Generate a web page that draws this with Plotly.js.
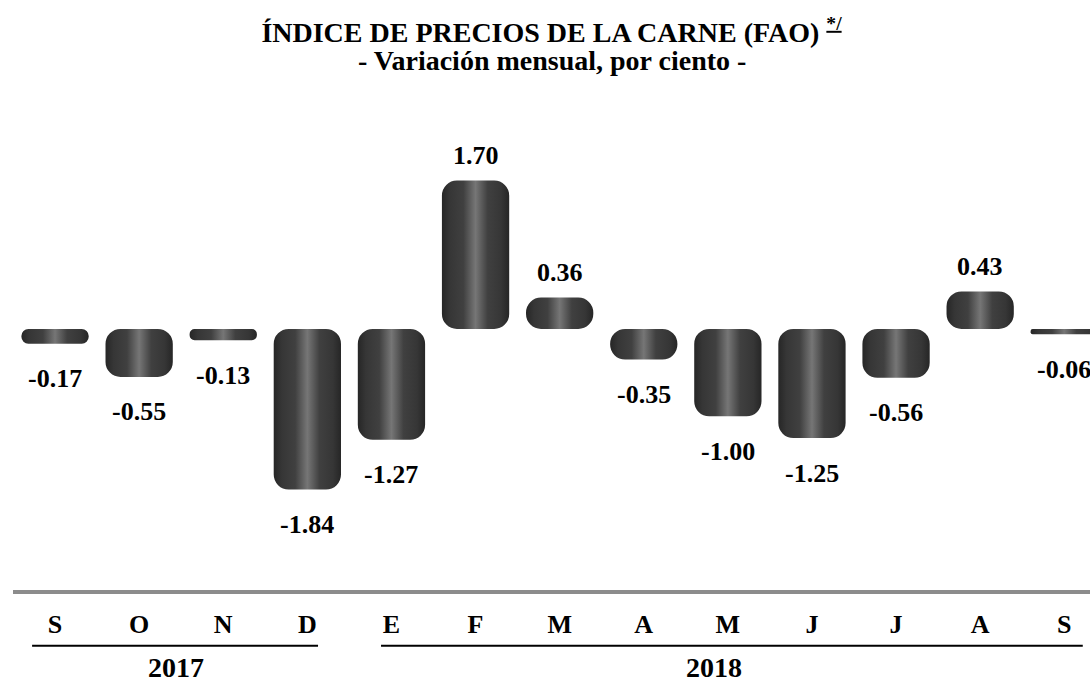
<!DOCTYPE html>
<html>
<head>
<meta charset="utf-8">
<script src="https://cdn.plot.ly/plotly-3.0.1.min.js"></script>
<style>
html,body{margin:0;padding:0;background:#fff;}
#chart{width:1090px;height:684px;}
</style>
</head>
<body>
<div id="chart"></div>
<script>
const months = ['S','O','N','D','E','F','M','A','M','J','J','A','S'];
const values = [-0.17,-0.55,-0.13,-1.84,-1.27,1.70,0.36,-0.35,-1.00,-1.25,-0.56,0.43,-0.06];
const years = ['2017','2018'];

const serif = '"Liberation Serif", "Times New Roman", serif';
const idx = months.map((m,i)=>i);

// Bars drawn from the lower end upward so the rounded end always sits on top
const bars = {
  type:'bar',
  x: idx,
  y: values.map(v=>Math.abs(v)),
  base: values.map(v=>v<0?v:0),
  width: 0.8,
  marker:{color:'#3a3a3a', cornerradius:15, line:{width:0}},
  hoverinfo:'skip',
  showlegend:false
};

const annotations = values.map((v,i)=>({
  x:i, y:v, xref:'x', yref:'y',
  text:'<b>'+v.toFixed(2)+'</b>',
  showarrow:false,
  yshift: v>=0 ? 25 : -35,
  font:{family:serif, size:26, color:'#000'}
}));

// subtitle line
annotations.push({
  xref:'paper', yref:'paper', x:0.5, y:1.0796, yanchor:'middle',
  text:'<b>- Variación mensual, por ciento -</b>',
  showarrow:false,
  font:{family:serif, size:28, color:'#000'}
});

// year labels
const yearPos = [1.44, 7.84];
years.forEach((yr,k)=>{
  annotations.push({
    xref:'x', yref:'paper', x:yearPos[k], y:-0.158, yanchor:'middle',
    text:'<b>'+yr+'</b>', showarrow:false,
    font:{family:serif, size:28, color:'#000'}
  });
});

const lineExt = [[-0.273,3.127],[3.876,12.22]];
const shapes = lineExt.map(e=>({
  type:'line', xref:'x', yref:'paper',
  x0:e[0], x1:e[1], y0:-0.114, y1:-0.114,
  line:{color:'#000', width:2}
}));

const layout = {
  width:1090, height:684,
  margin:{l:13, r:0, t:100, b:94, pad:0},
  paper_bgcolor:'#fff', plot_bgcolor:'#fff',
  title:{
    text:'<b>ÍNDICE DE PRECIOS DE LA CARNE (FAO) <sup><u>*/</u></sup></b>',
    font:{family:serif, size:28, color:'#000'},
    x:0.5, xref:'paper', y:1-22/684, yref:'container', yanchor:'top'
  },
  xaxis:{
    range:[-0.5, 12.306],
    tickvals: idx, ticktext: months.map(m=>'<b>'+m+'</b>'),
    tickfont:{family:serif, size:26, color:'#000'},
    ticks:'', showgrid:false, zeroline:false,
    showline:true, linecolor:'#8c8c8c', linewidth:4,
    ticklabelstandoff:8, fixedrange:true
  },
  yaxis:{
    range:[-2.990, 2.623], visible:false, showgrid:false, zeroline:false, fixedrange:true
  },
  annotations: annotations,
  shapes: shapes,
  bargap:0.2
};

Plotly.newPlot('chart',[bars],layout,{displayModeBar:false, staticPlot:true}).then(function(gd){
  const svg = gd.querySelector('svg.main-svg');
  const NS = 'http://www.w3.org/2000/svg';
  let defs = svg.querySelector('defs');
  if(!defs){ defs = document.createElementNS(NS,'defs'); svg.insertBefore(defs, svg.firstChild); }
  const g = document.createElementNS(NS,'linearGradient');
  g.setAttribute('id','barGrad');
  g.setAttribute('x1','0'); g.setAttribute('x2','1'); g.setAttribute('y1','0'); g.setAttribute('y2','0');
  [[0,'#262626'],[0.12,'#363636'],[0.32,'#404040'],[0.5,'#767676'],[0.68,'#404040'],[0.88,'#363636'],[1,'#262626']].forEach(s=>{
    const st = document.createElementNS(NS,'stop');
    st.setAttribute('offset', s[0]); st.setAttribute('stop-color', s[1]);
    g.appendChild(st);
  });
  defs.appendChild(g);
  gd.querySelectorAll('.bars .point path').forEach(p=>{ p.style.fill='url(#barGrad)'; });
});
</script>
</body>
</html>
